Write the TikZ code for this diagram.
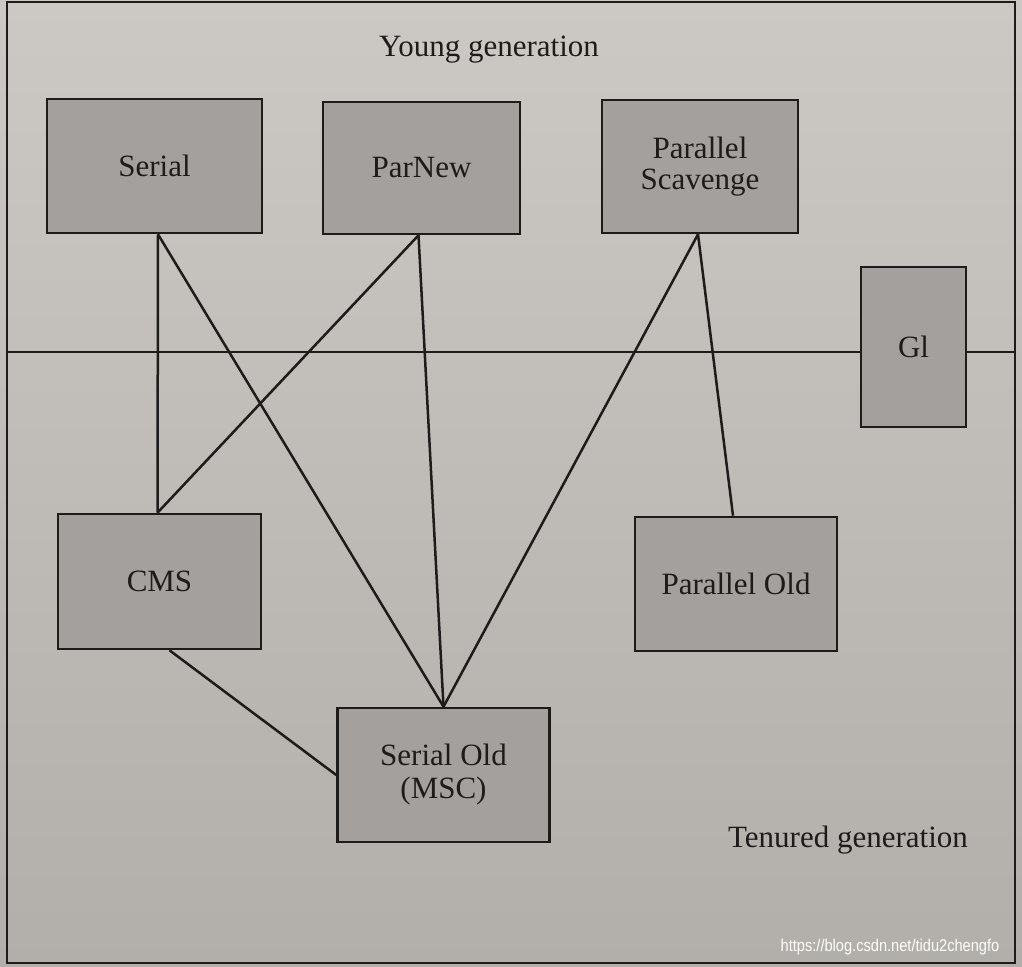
\documentclass[tikz,border=0pt]{standalone}
\usepackage{fontspec}
\setmainfont{Liberation Serif}
\setsansfont{Liberation Sans}
\definecolor{paper}{RGB}{196,193,189}
\definecolor{papertop}{RGB}{204,201,197}
\definecolor{paperbot}{RGB}{178,174,170}
\definecolor{boxfill}{RGB}{163,160,157}
\definecolor{ink}{RGB}{30,28,27}
\begin{document}
\begin{tikzpicture}[x=1pt,y=-1pt,
  gcbox/.style={draw=ink,line width=2.6pt,fill=boxfill,inner sep=0pt,
    align=center,font=\fontsize{31}{37}\selectfont,text=ink},
  link/.style={draw=ink,line width=2.5pt},
  label/.style={font=\fontsize{31}{37}\selectfont,text=ink,inner sep=0pt}]
\useasboundingbox (0,0) rectangle (1022,966);
\shade[top color=papertop,bottom color=paperbot] (0,0) rectangle (1022,966);
\draw[ink,line width=2.6pt] (7,2) rectangle (1015,963);
% boxes
\node[gcbox,minimum width=215pt,minimum height=134pt] (serial) at (154.5,166) {Serial};
\node[gcbox,minimum width=197pt,minimum height=132pt] (parnew) at (421.5,168) {ParNew};
\node[gcbox,minimum width=196pt,minimum height=133pt] (ps) at (700,166.5) {Parallel\\[-6pt]Scavenge};
\node[gcbox,minimum width=105pt,minimum height=160pt] (g1) at (913.5,347) {Gl};
\node[gcbox,minimum width=203pt,minimum height=135pt] (cms) at (159.5,581.5) {CMS};
\node[gcbox,minimum width=202pt,minimum height=134pt] (pold) at (736,584) {Parallel Old};
\node[gcbox,minimum width=212pt,minimum height=134pt] (sold) at (443.5,775) {Serial Old\\[-4pt](MSC)};
% labels
\node[label] (young) at (489,50) {Young generation};
\node[label] (tenured) at (848,840) {Tenured generation};
\node[font=\sffamily\fontsize{17}{20}\selectfont,text=white,inner sep=0pt,xscale=0.86] (wm) at (890,947) {https://blog.csdn.net/tidu2chengfo};
% generation divider
\coordinate (divL) at (7,352);
\coordinate (divR) at (1015,352);
\draw[link] (divL) -- (divL -| g1.west);
\draw[link] (divR -| g1.east) -- (divR);
% connectors
\coordinate (sS) at ([xshift=3.5pt]serial.south);
\coordinate (cN) at ([xshift=-2pt]cms.north);
\coordinate (pS) at ([xshift=-3pt]parnew.south);
\coordinate (vS) at ([xshift=-2pt]ps.south);
\draw[link] (sS) -- (cN);
\draw[link] (sS) -- (sold.north);
\draw[link] (pS) -- (cN);
\draw[link] (pS) -- (sold.north);
\draw[link] (vS) -- (sold.north);
\draw[link] (vS) -- ([xshift=-3pt]pold.north);
\draw[link] ([xshift=10pt]cms.south) -- (sold.west);
\end{tikzpicture}
\end{document}
